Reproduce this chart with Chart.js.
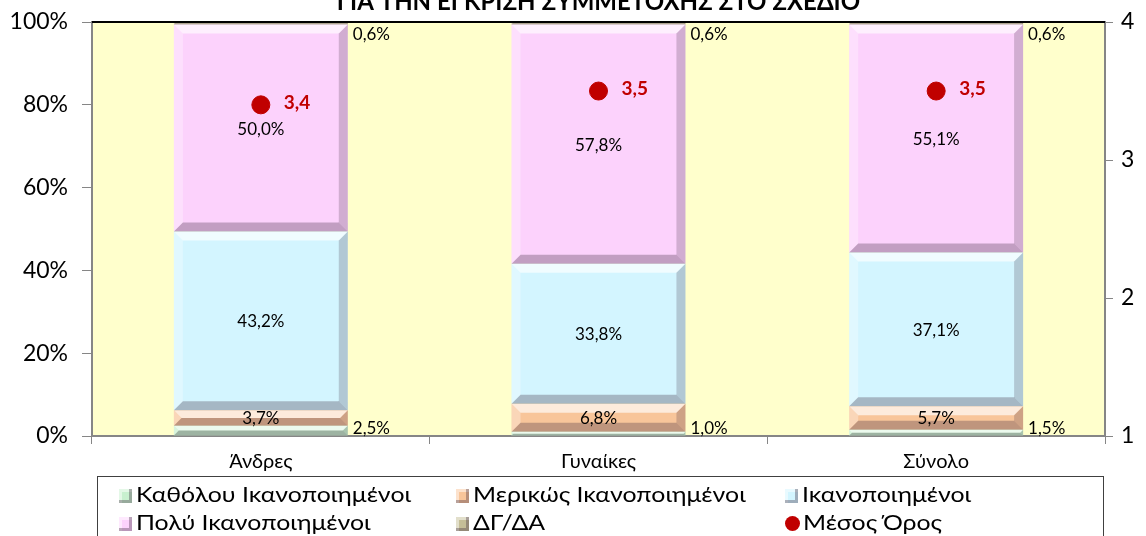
<!DOCTYPE html>
<html>
<head>
<meta charset="utf-8">
<script src="https://cdn.jsdelivr.net/npm/chart.js@4.4.0/dist/chart.umd.min.js"></script>
<style>
  html, body { margin: 0; padding: 0; background: #fff; }
  #wrap { position: relative; width: 1146px; height: 536px; overflow: hidden; }
  #legend { position: absolute; left: 97px; top: 476px; width: 1007px; height: 80px;
            border: 1px solid #404040; box-sizing: border-box; font-family: Lato, sans-serif; font-size: 22px; color: #000; }
  .item { position: absolute; white-space: nowrap; line-height: 26px; }
  .txt { display: inline-block; transform: scaleX(1.13); transform-origin: left center; }
  .mk { display: inline-block; width: 13px; height: 14px; margin-right: 4px; vertical-align: -1px; }
  .dot { display: inline-block; width: 15px; height: 15px; border-radius: 50%; background: #C00000; margin-right: 3px; vertical-align: -1px; }
</style>
</head>
<body>
<div id="wrap">
  <canvas id="c" width="1146" height="536"></canvas>
  <div id="legend"></div>
</div>
<script>
// --- data ---
var categories = ['Άνδρες', 'Γυναίκες', 'Σύνολο'];
var seriesNames = ['Καθόλου Ικανοποιημένοι', 'Μερικώς Ικανοποιημένοι', 'Ικανοποιημένοι', 'Πολύ Ικανοποιημένοι', 'ΔΓ/ΔΑ'];
var notSatisfied = [2.5, 1.0, 1.5];
var partly = [3.7, 6.8, 5.7];
var satisfied = [43.2, 33.8, 37.1];
var verySatisfied = [50.0, 57.8, 55.1];
var dkna = [0.6, 0.6, 0.6];
var meanScore = [3.4, 3.5, 3.5];
var meanName = 'Μέσος Όρος';
var titleText = 'ΓΙΑ ΤΗΝ ΕΓΚΡΙΣΗ ΣΥΜΜΕΤΟΧΗΣ ΣΤΟ ΣΧΕΔΙΟ';

var barColors = ['#C8F0CF', '#F8C59A', '#D3F5FF', '#FCD2FC', '#C5BE97'];
var FONT = 'Lato, sans-serif';

function fmtPct(v) { return v.toFixed(1).replace('.', ',') + '%'; }

// plot background + top border + title
var frame = {
  id: 'frame',
  beforeDraw: function(chart) {
    var a = chart.chartArea, ctx = chart.ctx;
    ctx.save();
    ctx.fillStyle = '#FFFFCC';
    ctx.fillRect(a.left, a.top, a.right - a.left, a.bottom - a.top);
    ctx.restore();
  },
  afterDraw: function(chart) {
    var a = chart.chartArea, ctx = chart.ctx;
    ctx.save();
    ctx.strokeStyle = '#000';
    ctx.lineWidth = 2;
    ctx.beginPath(); ctx.moveTo(a.left, a.top); ctx.lineTo(a.right, a.top); ctx.stroke();
    ctx.fillStyle = '#000';
    ctx.font = 'bold 24px ' + FONT;
    ctx.textAlign = 'center';
    ctx.textBaseline = 'alphabetic';
    ctx.fillText(titleText, (a.left + a.right) / 2, 10);
    ctx.restore();
  }
};

// bevel look on the bar segments
var bevel = {
  id: 'bevel',
  afterDatasetsDraw: function(chart) {
    var ctx = chart.ctx;
    chart.data.datasets.forEach(function(ds, di) {
      if (ds.type === 'line') return;
      chart.getDatasetMeta(di).data.forEach(function(el) {
        var l = el.x - el.width / 2, r = el.x + el.width / 2;
        var t = Math.min(el.y, el.base), b = Math.max(el.y, el.base);
        var s = Math.min(9, (b - t) / 2, el.width / 2);
        if (s <= 0) return;
        function poly(pts, fill) {
          ctx.beginPath(); ctx.moveTo(pts[0], pts[1]);
          for (var i = 2; i < pts.length; i += 2) ctx.lineTo(pts[i], pts[i + 1]);
          ctx.closePath(); ctx.fillStyle = fill; ctx.fill();
        }
        ctx.save();
        poly([l, t, r, t, r - s, t + s, l + s, t + s], 'rgba(255,255,255,0.65)');
        poly([l, t, l + s, t + s, l + s, b - s, l, b], 'rgba(255,255,255,0.3)');
        poly([r, t, r, b, r - s, b - s, r - s, t + s], 'rgba(60,40,60,0.22)');
        poly([l, b, r, b, r - s, b - s, l + s, b - s], 'rgba(60,40,60,0.3)');
        ctx.restore();
      });
    });
  }
};

// data labels
var labels = {
  id: 'labels',
  afterDatasetsDraw: function(chart) {
    var ctx = chart.ctx;
    ctx.save();
    chart.data.datasets.forEach(function(ds, di) {
      var meta = chart.getDatasetMeta(di);
      meta.data.forEach(function(el, i) {
        var v = ds.data[i];
        if (ds.type === 'line') {
          ctx.font = 'bold 19px ' + FONT;
          ctx.fillStyle = '#C00000';
          ctx.textAlign = 'left';
          ctx.textBaseline = 'middle';
          ctx.fillText(v.toFixed(1).replace('.', ','), el.x + 23, el.y - 2);
          return;
        }
        ctx.font = '17px ' + FONT;
        ctx.fillStyle = '#000';
        var r = el.x + el.width / 2;
        if (di === 0) {
          ctx.textAlign = 'left'; ctx.textBaseline = 'bottom';
          ctx.fillText(fmtPct(v), r + 5, chart.chartArea.bottom + 1);
        } else if (di === 4) {
          ctx.textAlign = 'left'; ctx.textBaseline = 'top';
          ctx.fillText(fmtPct(v), r + 5, chart.chartArea.top + 4);
        } else {
          ctx.textAlign = 'center'; ctx.textBaseline = 'middle';
          ctx.fillText(fmtPct(v), el.x, (el.y + el.base) / 2 + 1);
        }
      });
    });
    ctx.restore();
  }
};

var seriesData = [notSatisfied, partly, satisfied, verySatisfied, dkna];
var datasets = seriesData.map(function(d, i) {
  return {
    type: 'bar', label: seriesNames[i], data: d, backgroundColor: barColors[i],
    yAxisID: 'y', barPercentage: 0.515, categoryPercentage: 1, order: 2
  };
});
datasets.push({
  type: 'line', label: meanName, data: meanScore, yAxisID: 'y1', showLine: false,
  pointRadius: 9, pointHoverRadius: 9, pointBackgroundColor: '#C00000', pointBorderColor: '#C00000', order: 1
});

var axisGrey = '#868686';
new Chart(document.getElementById('c').getContext('2d'), {
  data: { labels: categories, datasets: datasets },
  plugins: [frame, bevel, labels],
  options: {
    responsive: false,
    animation: false,
    layout: { autoPadding: false, padding: { top: 20, left: 0, right: 0, bottom: 0 } },
    plugins: { legend: { display: false }, tooltip: { enabled: false } },
    scales: {
      x: {
        stacked: true,
        grid: { drawOnChartArea: false, drawTicks: true, tickLength: 8, color: axisGrey, offset: true },
        border: { display: true, color: axisGrey, width: 2 },
        ticks: { color: '#000', font: { family: FONT, size: 20 }, padding: 6 },
        afterFit: function(s) { s.height = 100; }
      },
      y: {
        stacked: true, min: 0, max: 100, position: 'left',
        grid: { drawOnChartArea: false, drawTicks: true, tickLength: 10, color: axisGrey },
        border: { display: true, color: axisGrey, width: 2 },
        ticks: { stepSize: 20, color: '#000', font: { family: FONT, size: 23, lineHeight: 0.7 }, padding: 14,
                 callback: function(v) { return v + '%'; } },
        afterFit: function(s) { s.width = 92; }
      },
      y1: {
        min: 1, max: 4, position: 'right',
        grid: { drawOnChartArea: false, drawTicks: true, tickLength: 8, color: axisGrey },
        border: { display: true, color: axisGrey, width: 2 },
        ticks: { stepSize: 1, color: '#000', font: { family: FONT, size: 23, lineHeight: 0.7 }, padding: 8 },
        afterFit: function(s) { s.width = 41; }
      }
    }
  }
});

// legend laid out in three columns like the original
var leg = document.getElementById('legend');
var cols = [21, 358, 687];
var rows = [4, 32];
var entries = seriesNames.map(function(n, i) { return { name: n, color: barColors[i] }; });
entries.push({ name: meanName, dot: true });
entries.forEach(function(e, i) {
  var d = document.createElement('div');
  d.className = 'item';
  d.style.left = cols[i % 3] + 'px';
  d.style.top = rows[Math.floor(i / 3)] + 'px';
  var m = document.createElement('span');
  if (e.dot) { m.className = 'dot'; }
  else {
    m.className = 'mk';
    m.style.background = e.color;
    m.style.boxShadow = 'inset -3px -3px 0 rgba(60,40,60,0.35), inset 3px 3px 0 rgba(255,255,255,0.5)';
  }
  d.appendChild(m);
  var t = document.createElement('span');
  t.className = 'txt';
  t.textContent = e.name;
  d.appendChild(t);
  leg.appendChild(d);
});
</script>
</body>
</html>
